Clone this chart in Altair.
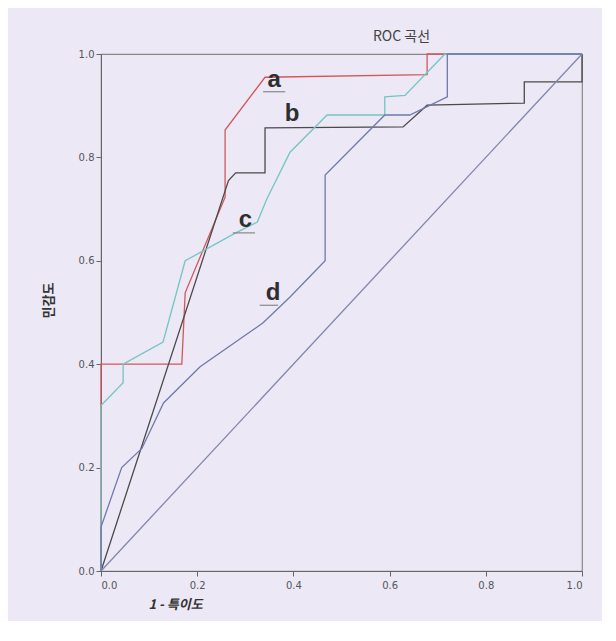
import altair as alt
import pandas as pd

# ROC curve series
a_x = [0, 0, 0.168, 0.175, 0.258, 0.258, 0.341, 0.678, 0.678, 1.0]
a_y = [0, 0.40, 0.40, 0.538, 0.723, 0.853, 0.955, 0.960, 1.0, 1.0]

b_x = [0, 0.265, 0.28, 0.341, 0.341, 0.628, 0.678, 0.88, 0.88, 1.0, 1.0]
b_y = [0, 0.755, 0.77, 0.77, 0.857, 0.859, 0.901, 0.905, 0.946, 0.946, 1.0]

c_x = [0, 0, 0.046, 0.046, 0.129, 0.175, 0.28, 0.325, 0.345, 0.393, 0.47, 0.59, 0.59, 0.632, 0.715, 1.0]
c_y = [0, 0.32, 0.364, 0.40, 0.443, 0.60, 0.654, 0.675, 0.72, 0.81, 0.882, 0.882, 0.917, 0.92, 1.0, 1.0]

d_x = [0, 0, 0.043, 0.085, 0.13, 0.206, 0.337, 0.393, 0.466, 0.466, 0.59, 0.642, 0.72, 0.72, 1.0]
d_y = [0, 0.085, 0.20, 0.237, 0.325, 0.395, 0.48, 0.53, 0.60, 0.766, 0.882, 0.882, 0.917, 1.0, 1.0]

ref_x = [0, 1]
ref_y = [0, 1]

series_names = ["a", "b", "c", "d", "ref"]
series_colors = ["#d2575c", "#4a4a4a", "#72c6c4", "#6f7aaa", "#8087ad"]

label_text = ["a", "b", "c", "d"]
label_x = [0.360, 0.397, 0.300, 0.358]
label_y = [0.950, 0.884, 0.679, 0.538]

uline_x1 = [0.337, 0.274, 0.330]
uline_x2 = [0.383, 0.320, 0.368]
uline_y = [0.927, 0.654, 0.514]

ticks = [0.0, 0.2, 0.4, 0.6, 0.8, 1.0]

rows = []
for name, xs, ys in [("a", a_x, a_y), ("b", b_x, b_y), ("c", c_x, c_y),
                     ("d", d_x, d_y), ("ref", ref_x, ref_y)]:
    for i, (x, y) in enumerate(zip(xs, ys)):
        rows.append({"series": name, "i": i, "x": x, "y": y})
df = pd.DataFrame(rows)

labels_df = pd.DataFrame({"t": label_text, "x": label_x, "y": label_y})
ul_df = pd.DataFrame({"x": uline_x1, "x2": uline_x2, "y": uline_y})

xscale = alt.Scale(domain=[0, 1], nice=False, zero=False)
yscale = alt.Scale(domain=[0, 1], nice=False, zero=False)

axis_common = dict(
    values=ticks, format=".1f", grid=False,
    domainColor="#666", tickColor="#666", tickSize=5,
    labelColor="#555", labelFont="DejaVu Sans", labelFontSize=10,
    titleColor="#333",
)

lines = alt.Chart(df).mark_line(strokeWidth=1.3).encode(
    x=alt.X("x:Q", scale=xscale,
            axis=alt.Axis(title="1 - 특이도", titleFont="Noto Sans CJK KR",
                          titleFontSize=13, titleFontStyle="italic",
                          titleFontWeight="bold", titleX=74, titleY=27,
                          titleAlign="center", labelPadding=4, **axis_common)),
    y=alt.Y("y:Q", scale=yscale,
            axis=alt.Axis(title="민감도", titleFont="Noto Sans CJK KR",
                          titleFontSize=13, titleFontWeight="bold",
                          titleX=-46, titleY=246, titleAlign="center",
                          labelPadding=2, **axis_common)),
    color=alt.Color("series:N", scale=alt.Scale(domain=series_names, range=series_colors),
                    legend=None),
    order=alt.Order("i:Q"),
)

underlines = alt.Chart(ul_df).mark_rule(color="#888", strokeWidth=1.2).encode(
    x=alt.X("x:Q", scale=xscale), x2="x2:Q", y=alt.Y("y:Q", scale=yscale)
)

texts = alt.Chart(labels_df).mark_text(
    font="Liberation Sans", fontSize=24, fontWeight="bold", color="#2e2e2e"
).encode(
    x=alt.X("x:Q", scale=xscale), y=alt.Y("y:Q", scale=yscale), text="t:N"
)

chart = alt.layer(lines, underlines, texts).properties(
    width=481, height=517,
    background="#ece8f5",
    padding={"left": 93, "top": 46, "right": 20, "bottom": 50},
    autosize=alt.AutoSizeParams(type="none"),
    title=alt.TitleParams("ROC 곡선", font="Noto Sans CJK KR", fontSize=14,
                          fontWeight="normal", color="#444", anchor="middle",
                          dx=60, offset=5),
).configure_view(stroke="#888", strokeWidth=1.2, fill="#ece8f5")

chart.save("out.html", embed_options={"renderer": "svg", "actions": False})
